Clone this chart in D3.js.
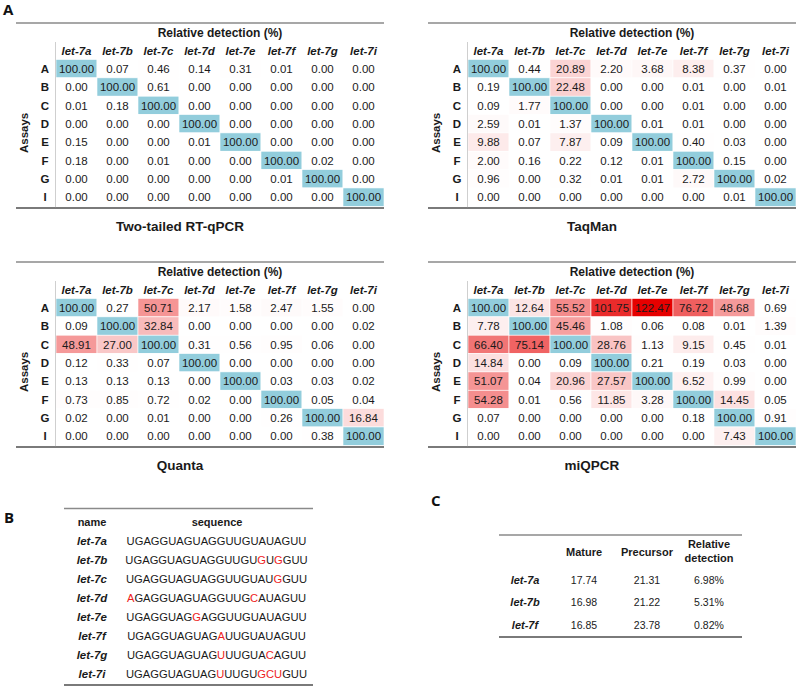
<!DOCTYPE html>
<html><head><meta charset="utf-8">
<script src="https://cdn.jsdelivr.net/npm/d3@7"></script>
<style>
body{margin:0;background:#fff;}
svg{display:block;font-family:"Liberation Sans",Arial,sans-serif;}
</style></head>
<body><svg id="chart" width="796" height="686"></svg>
<script>
const mirnas = ["let-7a","let-7b","let-7c","let-7d","let-7e","let-7f","let-7g","let-7i"];
const assays = ["A","B","C","D","E","F","G","I"];

const twoTailed = [
 [100.00,0.07,0.46,0.14,0.31,0.01,0.00,0.00],
 [0.00,100.00,0.61,0.00,0.00,0.00,0.00,0.00],
 [0.01,0.18,100.00,0.00,0.00,0.00,0.00,0.00],
 [0.00,0.00,0.00,100.00,0.00,0.00,0.00,0.00],
 [0.15,0.00,0.00,0.01,100.00,0.00,0.00,0.00],
 [0.18,0.00,0.01,0.00,0.00,100.00,0.02,0.00],
 [0.00,0.00,0.00,0.00,0.00,0.01,100.00,0.00],
 [0.00,0.00,0.00,0.00,0.00,0.00,0.00,100.00]];
const taqman = [
 [100.00,0.44,20.89,2.20,3.68,8.38,0.37,0.00],
 [0.19,100.00,22.48,0.00,0.00,0.01,0.00,0.01],
 [0.09,1.77,100.00,0.00,0.00,0.01,0.00,0.00],
 [2.59,0.01,1.37,100.00,0.01,0.01,0.00,0.00],
 [9.88,0.07,7.87,0.09,100.00,0.40,0.03,0.00],
 [2.00,0.16,0.22,0.12,0.01,100.00,0.15,0.00],
 [0.96,0.00,0.32,0.01,0.01,2.72,100.00,0.02],
 [0.00,0.00,0.00,0.00,0.00,0.00,0.01,100.00]];
const quanta = [
 [100.00,0.27,50.71,2.17,1.58,2.47,1.55,0.00],
 [0.09,100.00,32.84,0.00,0.00,0.00,0.00,0.02],
 [48.91,27.00,100.00,0.31,0.56,0.95,0.06,0.00],
 [0.12,0.33,0.07,100.00,0.00,0.00,0.00,0.00],
 [0.13,0.13,0.13,0.00,100.00,0.03,0.03,0.02],
 [0.73,0.85,0.72,0.02,0.00,100.00,0.05,0.04],
 [0.02,0.00,0.01,0.00,0.00,0.26,100.00,16.84],
 [0.00,0.00,0.00,0.00,0.00,0.00,0.38,100.00]];
const miqpcr = [
 [100.00,12.64,55.52,101.75,122.47,76.72,48.68,0.69],
 [7.78,100.00,45.46,1.08,0.06,0.08,0.01,1.39],
 [66.40,75.14,100.00,28.76,1.13,9.15,0.45,0.01],
 [14.84,0.00,0.09,100.00,0.21,0.19,0.03,0.00],
 [51.07,0.04,20.96,27.57,100.00,6.52,0.99,0.00],
 [54.28,0.01,0.56,11.85,3.28,100.00,14.45,0.05],
 [0.07,0.00,0.00,0.00,0.00,0.18,100.00,0.91],
 [0.00,0.00,0.00,0.00,0.00,0.00,7.43,100.00]];
const panelTitles = ["Two-tailed RT-qPCR","TaqMan","Quanta","miQPCR"];

const seqNames = ["let-7a","let-7b","let-7c","let-7d","let-7e","let-7f","let-7g","let-7i"];
const sequences = ["UGAGGUAGUAGGUUGUAUAGUU","UGAGGUAGUAGGUUGUGUGGUU","UGAGGUAGUAGGUUGUAUGGUU","AGAGGUAGUAGGUUGCAUAGUU","UGAGGUAGGAGGUUGUAUAGUU","UGAGGUAGUAGAUUGUAUAGUU","UGAGGUAGUAGUUUGUACAGUU","UGAGGUAGUAGUUUGUGCUGUU"];
const mismatches = [[],[16,18],[18],[0,15],[8],[11],[11,17],[11,16,17,18]];

const cNames = ["let-7a","let-7b","let-7f"];
const cHeaders = ["Mature","Precursor","Relative detection"];
const mature = [17.74,16.98,16.85];
const precursor = [21.31,21.22,23.78];
const relDetection = ["6.98%","5.31%","0.82%"];

const svg = d3.select("#chart");
const blue = "#92cddc";
const allVals = [twoTailed,taqman,quanta,miqpcr].flatMap(m=>m.flatMap((r,i)=>r.filter((v,j)=>i!==j)));
const color = d3.scaleLinear().domain([0,d3.max(allVals)]).range(["#ffffff","#e60000"]).interpolate(d3.interpolateRgb);

function panelLabel(t,x,y){
  svg.append("text").attr("x",x).attr("y",y).attr("font-family","'Open Sans',sans-serif")
   .attr("font-weight","bold").attr("font-size",15).attr("fill","#111").text(t);
}
panelLabel("A",3,15);
panelLabel("B",4,523);
panelLabel("C",431,506);

function heat(data,title,ox,oy){
  const g = svg.append("g");
  const x0 = ox+40, x1 = ox+368;
  const x = d3.scaleBand().domain(mirnas).range([x0,x1]);
  const rowTop = oy+36.5, rowH = 18.35;
  const y = d3.scaleBand().domain(assays).range([rowTop,rowTop+rowH*8]);
  data.forEach((row,i)=>row.forEach((v,j)=>{
    const fill = i===j ? blue : color(v);
    g.append("rect").attr("x",x(mirnas[j])).attr("y",y(assays[i]))
     .attr("width",x.bandwidth()).attr("height",y.bandwidth()).attr("fill",fill)
     .attr("stroke","#fff").attr("stroke-width",0.6);
    g.append("text").attr("x",x(mirnas[j])+x.bandwidth()/2).attr("y",y(assays[i])+y.bandwidth()/2)
     .attr("dy","0.36em").attr("text-anchor","middle").attr("font-size",11.5).attr("fill","#1a1a1a")
     .text(d3.format(".2f")(v));
  }));
  g.append("line").attr("x1",ox).attr("x2",x1).attr("y1",oy).attr("y2",oy).attr("stroke","#8a8a8a").attr("stroke-width",1.5);
  const yb = rowTop+rowH*8+1.8;
  g.append("line").attr("x1",ox).attr("x2",x1).attr("y1",yb).attr("y2",yb).attr("stroke","#7a7a7a").attr("stroke-width",2);
  g.append("line").attr("x1",x0-0.5).attr("x2",x0-0.5).attr("y1",oy+19).attr("y2",yb-1).attr("stroke","#cfcfcf").attr("stroke-width",1);
  g.append("text").attr("x",(x0+x1)/2).attr("y",oy+10).attr("dy","0.36em").attr("text-anchor","middle")
   .attr("font-size",12).attr("font-weight","bold").attr("fill","#1a1a1a").text("Relative detection (%)");
  g.selectAll(null).data(mirnas).join("text").attr("x",d=>x(d)+x.bandwidth()/2).attr("y",oy+28).attr("dy","0.36em")
   .attr("text-anchor","middle").attr("font-size",11.5).attr("font-weight","bold").attr("font-style","italic")
   .attr("fill","#1a1a1a").text(d=>d);
  g.selectAll(null).data(assays).join("text").attr("x",x0-11).attr("y",d=>y(d)+y.bandwidth()/2).attr("dy","0.36em")
   .attr("text-anchor","middle").attr("font-size",11.5).attr("font-weight","bold").attr("fill","#1a1a1a").text(d=>d);
  g.append("text").attr("transform",`translate(${ox+8},${rowTop+rowH*4}) rotate(-90)`).attr("dy","0.36em")
   .attr("text-anchor","middle").attr("font-size",11.5).attr("font-weight","bold").attr("fill","#1a1a1a").text("Assays");
  g.append("text").attr("x",ox+164).attr("y",oy+203).attr("dy","0.36em").attr("text-anchor","middle")
   .attr("font-size",13.5).attr("font-weight","bold").attr("fill","#1a1a1a").text(title);
}
heat(twoTailed,panelTitles[0],16,23);
heat(taqman,panelTitles[1],428,23);
heat(quanta,panelTitles[2],16,262);
heat(miqpcr,panelTitles[3],428,262);

// Panel B
(function(){
  const g = svg.append("g");
  const y = d3.scaleBand().domain(seqNames).range([531.5,683.5]);
  g.append("line").attr("x1",64).attr("x2",313).attr("y1",508.5).attr("y2",508.5).attr("stroke","#8a8a8a").attr("stroke-width",1.5);
  g.append("line").attr("x1",64).attr("x2",313).attr("y1",685).attr("y2",685).attr("stroke","#7a7a7a").attr("stroke-width",2);
  g.append("text").attr("x",92).attr("y",522.5).attr("dy","0.36em").attr("text-anchor","middle").attr("font-size",11)
   .attr("font-weight","bold").attr("fill","#1a1a1a").text("name");
  g.append("text").attr("x",217).attr("y",522.5).attr("dy","0.36em").attr("text-anchor","middle").attr("font-size",11)
   .attr("font-weight","bold").attr("fill","#1a1a1a").text("sequence");
  seqNames.forEach((n,i)=>{
    const cy = y(n)+y.bandwidth()/2;
    g.append("text").attr("x",92).attr("y",cy).attr("dy","0.36em").attr("text-anchor","middle").attr("font-size",11.5)
     .attr("font-weight","bold").attr("font-style","italic").attr("fill","#1a1a1a").text(n);
    const t = g.append("text").attr("x",216.5).attr("y",cy).attr("dy","0.36em").attr("text-anchor","middle")
     .attr("font-size",11.2).attr("fill","#1a1a1a");
    sequences[i].split("").forEach((ch,k)=>{
      t.append("tspan").attr("fill",mismatches[i].includes(k)?"#ee1c1c":"#1a1a1a").text(ch);
    });
  });
})();

// Panel C
(function(){
  const g = svg.append("g");
  const colX = [525,584,647,709];
  const y = d3.scaleBand().domain(cNames).range([569,636]);
  g.append("line").attr("x1",499).attr("x2",742).attr("y1",535).attr("y2",535).attr("stroke","#8a8a8a").attr("stroke-width",1.5);
  g.append("line").attr("x1",499).attr("x2",742).attr("y1",637).attr("y2",637).attr("stroke","#7a7a7a").attr("stroke-width",2);
  g.append("text").attr("x",colX[1]).attr("y",552).attr("dy","0.36em").attr("text-anchor","middle").attr("font-size",11)
   .attr("font-weight","bold").attr("fill","#1a1a1a").text(cHeaders[0]);
  g.append("text").attr("x",colX[2]).attr("y",552).attr("dy","0.36em").attr("text-anchor","middle").attr("font-size",11)
   .attr("font-weight","bold").attr("fill","#1a1a1a").text(cHeaders[1]);
  const parts = cHeaders[2].split(" ");
  g.append("text").attr("x",colX[3]).attr("y",544.5).attr("dy","0.36em").attr("text-anchor","middle").attr("font-size",11)
   .attr("font-weight","bold").attr("fill","#1a1a1a").text(parts[0]);
  g.append("text").attr("x",colX[3]).attr("y",558.5).attr("dy","0.36em").attr("text-anchor","middle").attr("font-size",11)
   .attr("font-weight","bold").attr("fill","#1a1a1a").text(parts[1]);
  cNames.forEach((n,i)=>{
    const cy = y(n)+y.bandwidth()/2;
    g.append("text").attr("x",colX[0]).attr("y",cy).attr("dy","0.36em").attr("text-anchor","middle").attr("font-size",11)
     .attr("font-weight","bold").attr("font-style","italic").attr("fill","#1a1a1a").text(n);
    [d3.format(".2f")(mature[i]),d3.format(".2f")(precursor[i]),relDetection[i]].forEach((s,k)=>{
      g.append("text").attr("x",colX[k+1]).attr("y",cy).attr("dy","0.36em").attr("text-anchor","middle").attr("font-size",10.5)
       .attr("fill","#1a1a1a").text(s);
    });
  });
})();
</script></body></html>
